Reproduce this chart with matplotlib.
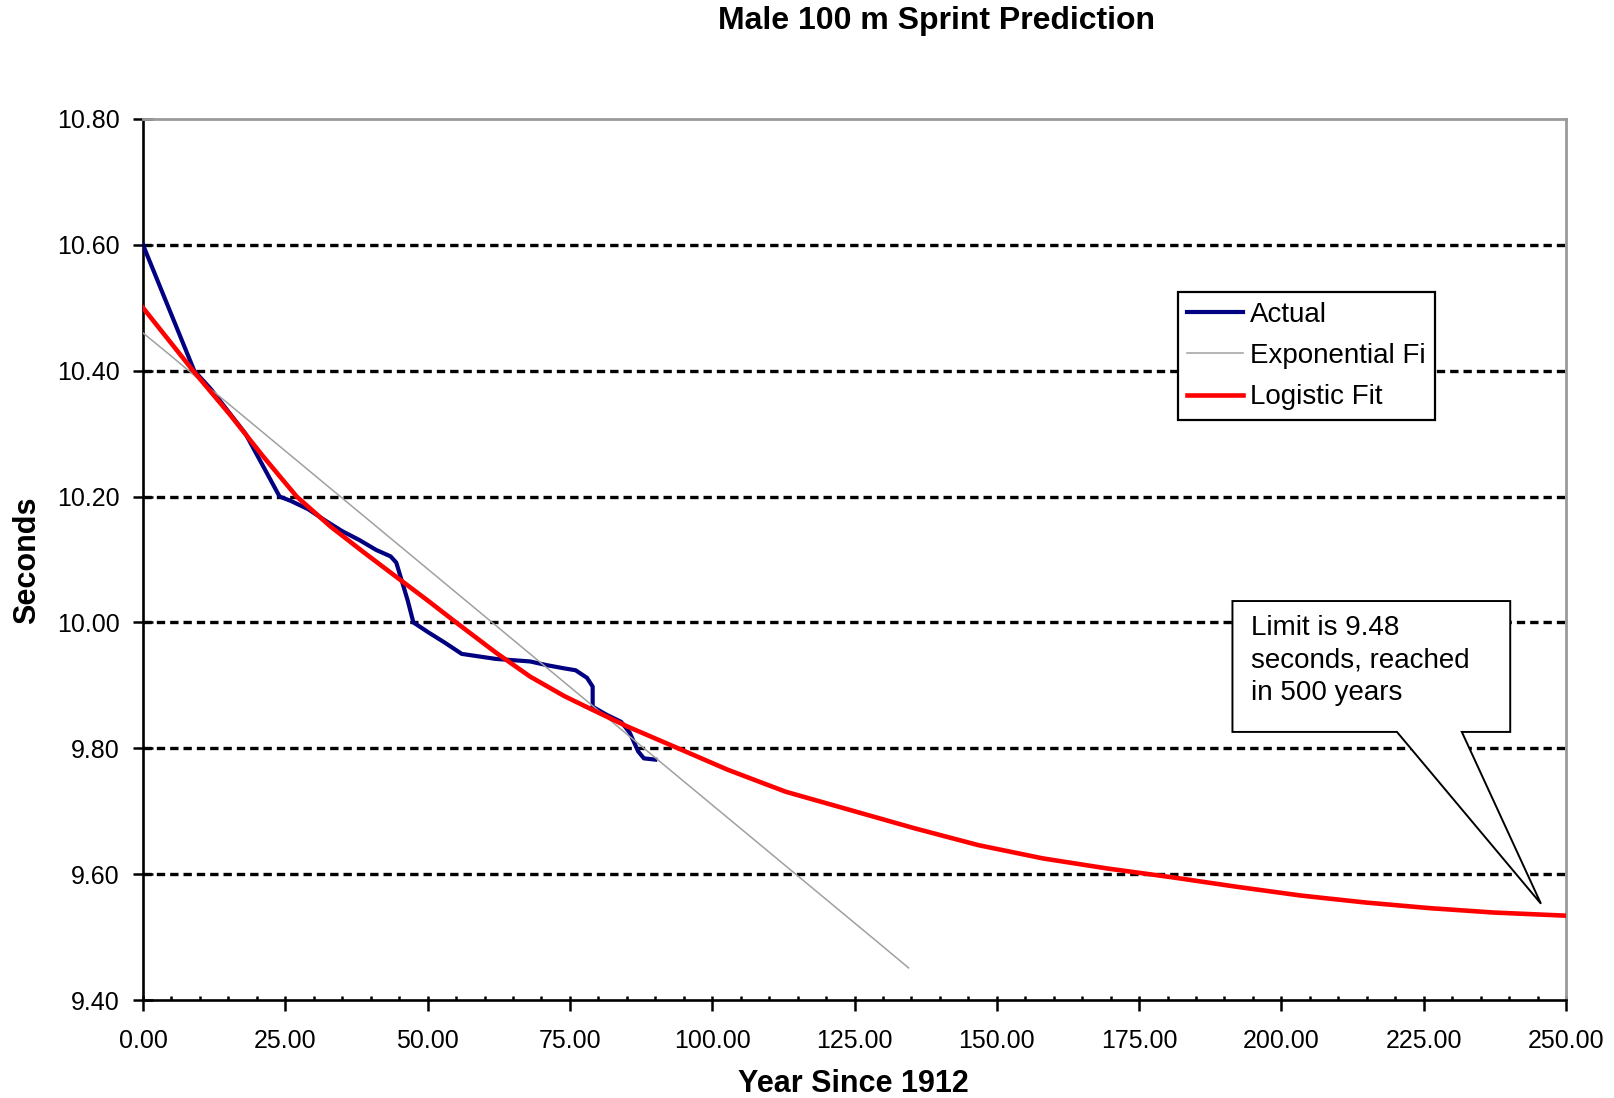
import matplotlib
matplotlib.use('Agg')
import matplotlib.pyplot as plt
from matplotlib.patches import Polygon
from matplotlib.lines import Line2D
from matplotlib.ticker import MultipleLocator, FormatStrFormatter

plt.rcParams['font.family'] = ['Liberation Sans', 'DejaVu Sans']

# ---------------- data ----------------
title = "Male 100 m Sprint Prediction"
x_label = "Year Since 1912"
y_label = "Seconds"
legend_labels = ["Actual", "Exponential Fi", "Logistic Fit"]
callout_lines = ["Limit is 9.48", "seconds, reached", "in 500 years"]

actual_years = [0, 9, 12, 15, 18, 21, 24, 26, 29, 32, 35, 38, 41, 43.5, 44.5,
                45.5, 46.5, 47.5, 50, 53, 56, 59, 62, 65, 68, 71, 74, 76,
                78, 79, 79, 81.5, 84, 85.5, 87, 88, 90]
actual_secs = [10.60, 10.40, 10.37, 10.335, 10.30, 10.25, 10.20, 10.193, 10.18,
               10.162, 10.145, 10.131, 10.115, 10.105, 10.095, 10.065, 10.035,
               10.00, 9.985, 9.968, 9.95, 9.946, 9.942, 9.940, 9.938, 9.932,
               9.927, 9.924, 9.912, 9.898, 9.866, 9.853, 9.842, 9.825, 9.795,
               9.784, 9.782]

expo_years = [0, 5, 10, 20, 30, 40, 50, 60, 70, 80, 90, 100, 110, 120, 130, 134.5]
expo_secs = [10.46, 10.423, 10.385, 10.31, 10.235, 10.16, 10.085, 10.01, 9.935,
             9.86, 9.785, 9.71, 9.635, 9.56, 9.485, 9.451]

logistic_years = [0, 8.8, 15.3, 21, 27, 33, 38.7, 45, 50, 55, 62, 68, 74, 79,
                  85, 94, 102.7, 112.9, 124.2, 135.5, 146.8, 158.1, 169.4,
                  180.8, 192.1, 203.4, 214.7, 226, 237.3, 250]
logistic_secs = [10.50, 10.40, 10.33, 10.265, 10.20, 10.152, 10.112, 10.069,
                 10.035, 10.00, 9.952, 9.914, 9.883, 9.861, 9.835, 9.80, 9.766,
                 9.731, 9.702, 9.673, 9.646, 9.625, 9.609, 9.595, 9.580, 9.566,
                 9.555, 9.546, 9.539, 9.534]

# ---------------- layout ----------------
W, H = 1614, 1098
fig = plt.figure(figsize=(W / 100, H / 100), dpi=100)
ax = fig.add_axes([143 / W, 1 - 1000 / H, 1423 / W, 881 / H])

ax.set_xlim(0, 250)
ax.set_ylim(9.4, 10.8)

ax.plot(actual_years, actual_secs, color='#000080', lw=3.0, zorder=3,
        solid_joinstyle='round')
ax.plot(expo_years, expo_secs, color='#a0a0a0', lw=1.1, zorder=3)
ax.plot(logistic_years, logistic_secs, color='#ff0000', lw=3.3, zorder=3,
        solid_joinstyle='round')

# ticks
ax.xaxis.set_major_locator(MultipleLocator(25))
ax.xaxis.set_minor_locator(MultipleLocator(5))
ax.xaxis.remove_overlapping_locs = False
ax.xaxis.set_major_formatter(FormatStrFormatter('%.2f'))
ax.yaxis.set_major_locator(MultipleLocator(0.2))
ax.yaxis.set_major_formatter(FormatStrFormatter('%.2f'))

ax.tick_params(axis='x', which='major', direction='out', length=8, width=1.8,
               pad=13, labelsize=18, colors='black')
ax.tick_params(axis='x', which='minor', direction='in', length=3, width=1.8)
ax.tick_params(axis='y', which='major', direction='inout', length=14, width=1.8,
               pad=10, labelsize=18)

# dashed horizontal grid at interior major y ticks
ylo, yhi = ax.get_ylim()
for v in ax.get_yticks():
    if ylo + 1e-6 < v < yhi - 1e-6:
        ax.axhline(v, color='black', lw=2.4, linestyle=(0, (2.5, 1.5)), zorder=1)

for s in ['left', 'bottom']:
    ax.spines[s].set_color('black')
    ax.spines[s].set_linewidth(1.9)
for s in ['top', 'right']:
    ax.spines[s].set_color('#9a9a9a')
    ax.spines[s].set_linewidth(2.0)

# legend
handles = [Line2D([], [], color='#000080', lw=3.0),
           Line2D([], [], color='#a0a0a0', lw=1.1),
           Line2D([], [], color='#ff0000', lw=3.3)]
leg = ax.legend(handles, legend_labels, loc='upper left',
                bbox_to_anchor=(0.727, 0.8036), borderaxespad=0,
                frameon=True, fancybox=False, edgecolor='black', framealpha=1,
                fontsize=20, handlelength=2.0, handletextpad=0.25,
                labelspacing=0.55, borderpad=0.35)
leg.get_frame().set_linewidth(1.6)
leg.set_zorder(5)

# callout (Excel-style wedge rectangle)
box_x0, box_x1 = 191.4, 240.2
box_y0, box_y1 = 9.826, 10.034
base_a, base_b = 220.3, 231.7
tip = (245.6, 9.553)
verts = [(box_x0, box_y1), (box_x1, box_y1), (box_x1, box_y0), (base_b, box_y0),
         tip, (base_a, box_y0), (box_x0, box_y0)]
ax.add_patch(Polygon(verts, closed=True, facecolor='white', edgecolor='black',
                     lw=1.4, zorder=6))
ax.text(194.6, 10.012, "\n".join(callout_lines), ha='left', va='top',
        fontsize=20, linespacing=1.32, zorder=7)

# titles
fig.text(937 / W, 1 - 21 / H, title, ha='center', va='center', fontsize=23,
         fontweight='bold')
fig.text(853.6 / W, 1 - 1084 / H, x_label, ha='center', va='center',
         fontsize=22, fontweight='bold')
fig.text(27 / W, 1 - 560 / H, y_label, ha='center', va='center',
         fontsize=22, fontweight='bold', rotation=90)

fig.savefig('out.png', dpi=100)
